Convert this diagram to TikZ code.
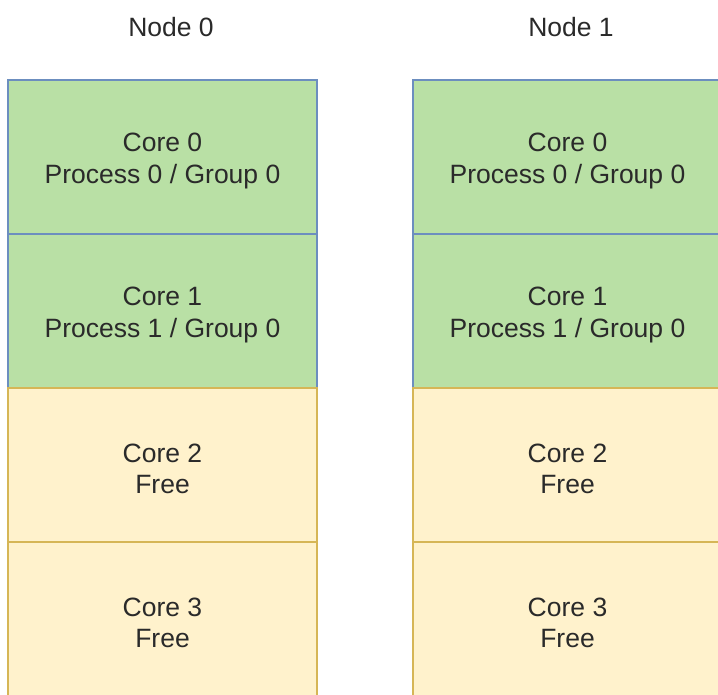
\documentclass[tikz,border=0pt]{standalone}
\usepackage{fontspec}
\setmainfont{Liberation Sans}
\definecolor{greenfill}{HTML}{B9E0A5}
\definecolor{bluestroke}{HTML}{6C8EBF}
\definecolor{yellowfill}{HTML}{FFF2CC}
\definecolor{yellowstroke}{HTML}{D6B656}
\definecolor{textgray}{HTML}{2A2A2A}
\tikzset{
  cell/.style={draw, line width=1.2pt, minimum width=309pt, minimum height=154pt,
    inner sep=0pt},
  busy/.style={cell, fill=greenfill, draw=bluestroke},
  free/.style={cell, fill=yellowfill, draw=yellowstroke},
  label text/.style={text=textgray, align=center, inner sep=0pt,
    font=\fontsize{26.5pt}{31.5pt}\selectfont},
  title/.style={label text}
}
\begin{document}
\begin{tikzpicture}[x=1pt,y=-1pt]
  \path[use as bounding box] (0,0) rectangle (718,695);
  \begin{scope}
    \clip (0,0) rectangle (718,695);
    % column of cores on the first machine
    \node[title] (n0) at (171,27) {Node 0};
    \node[busy] (a0) at (162.5,157) {};
    \node[busy] (a1) at (162.5,311) {};
    \node[free] (a2) at (162.5,465) {};
    \node[free] (a3) at (162.5,619) {};
    \node[label text] (a0t) at ([yshift=-4pt]a0.center) {Core 0\\Process 0 / Group 0};
    \node[label text] (a1t) at ([yshift=-4pt]a1.center) {Core 1\\Process 1 / Group 0};
    \node[label text] (a2t) at ([yshift=-4pt]a2.center) {Core 2\\Free};
    \node[label text] (a3t) at ([yshift=-4pt]a3.center) {Core 3\\Free};
    % column of cores on the second machine
    \node[title] (n1) at (571,27) {Node 1};
    \node[busy] (b0) at (567.5,157) {};
    \node[busy] (b1) at (567.5,311) {};
    \node[free] (b2) at (567.5,465) {};
    \node[free] (b3) at (567.5,619) {};
    \node[label text] (b0t) at ([yshift=-4pt]b0.center) {Core 0\\Process 0 / Group 0};
    \node[label text] (b1t) at ([yshift=-4pt]b1.center) {Core 1\\Process 1 / Group 0};
    \node[label text] (b2t) at ([yshift=-4pt]b2.center) {Core 2\\Free};
    \node[label text] (b3t) at ([yshift=-4pt]b3.center) {Core 3\\Free};
  \end{scope}
\end{tikzpicture}
\end{document}
